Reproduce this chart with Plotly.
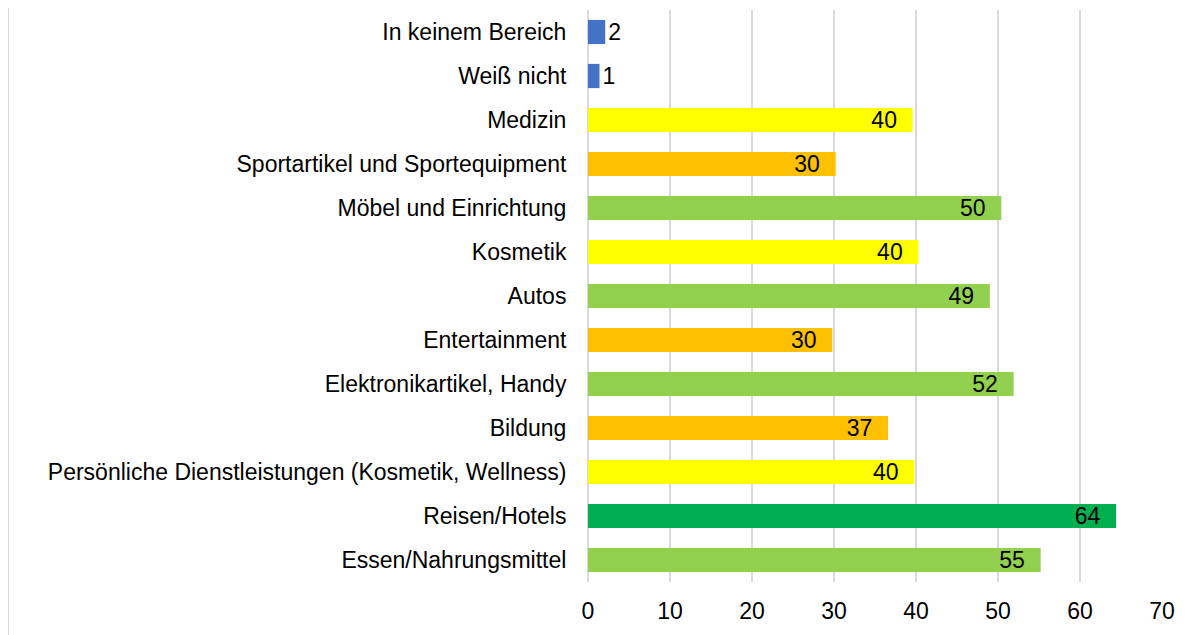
import plotly.graph_objects as go

categories = [
    "In keinem Bereich",
    "Weiß nicht",
    "Medizin",
    "Sportartikel und Sportequipment",
    "Möbel und Einrichtung",
    "Kosmetik",
    "Autos",
    "Entertainment",
    "Elektronikartikel, Handy",
    "Bildung",
    "Persönliche Dienstleistungen (Kosmetik, Wellness)",
    "Reisen/Hotels",
    "Essen/Nahrungsmittel",
]
values = [2.1, 1.4, 39.6, 30.2, 50.4, 40.3, 49.0, 29.8, 51.9, 36.6, 39.8, 64.4, 55.2]
colors = [
    "#4472C4", "#4472C4", "#FFFF00", "#FFC000", "#92D050", "#FFFF00", "#92D050",
    "#FFC000", "#92D050", "#FFC000", "#FFFF00", "#00B050", "#92D050",
]
x_ticks = [0, 10, 20, 30, 40, 50, 60, 70]

FONT = "Liberation Sans, Arial, sans-serif"
FS = 23

labels = []
positions = []
for v in values:
    if v < 10:
        labels.append(f"{v:.0f}")
        positions.append("outside")
    else:
        labels.append(f"{v:.0f}\u00a0\u00a0")
        positions.append("inside")

fig = go.Figure(
    go.Bar(
        x=values,
        y=categories,
        orientation="h",
        marker=dict(color=colors, line=dict(width=0)),
        text=labels,
        textposition=positions,
        insidetextanchor="end",
        constraintext="none",
        cliponaxis=False,
        textfont=dict(family=FONT, size=FS, color="#000000"),
        insidetextfont=dict(family=FONT, size=FS, color="#000000"),
        outsidetextfont=dict(family=FONT, size=FS, color="#000000"),
        hoverinfo="skip",
    )
)

ML, MR, MT, MB = 580, 48, 2, 61
PLOT_W = 1202 - ML - MR
PLOT_H = 635 - MT - MB
fig.update_layout(
    width=1202,
    height=635,
    margin=dict(l=ML, r=MR, t=MT, b=MB),
    paper_bgcolor="white",
    plot_bgcolor="white",
    bargap=0.45,
    showlegend=False,
    font=dict(family=FONT, size=FS, color="#000000"),
    xaxis=dict(
        range=[0, 70],
        tickvals=x_ticks,
        ticktext=[str(t) for t in x_ticks],
        showgrid=True,
        gridcolor="#D9D9D9",
        gridwidth=2,
        zeroline=True,
        zerolinecolor="#D9D9D9",
        zerolinewidth=2,
        showline=False,
        ticks="outside",
        ticklen=8,
        tickcolor="rgba(0,0,0,0)",
        tickfont=dict(family=FONT, size=FS, color="#000000"),
        fixedrange=True,
    ),
    yaxis=dict(
        autorange="reversed",
        showgrid=False,
        zeroline=False,
        showline=False,
        ticks="outside",
        ticklen=16,
        tickcolor="rgba(0,0,0,0)",
        tickfont=dict(family=FONT, size=FS, color="#000000"),
        fixedrange=True,
    ),
    shapes=[
        dict(
            type="line",
            xref="paper",
            yref="paper",
            x0=-ML / PLOT_W,
            x1=-ML / PLOT_W,
            y0=-MB / PLOT_H,
            y1=1 + MT / PLOT_H,
            line=dict(color="#D9D9D9", width=2),
        )
    ],
)

fig.write_html("out.html")
